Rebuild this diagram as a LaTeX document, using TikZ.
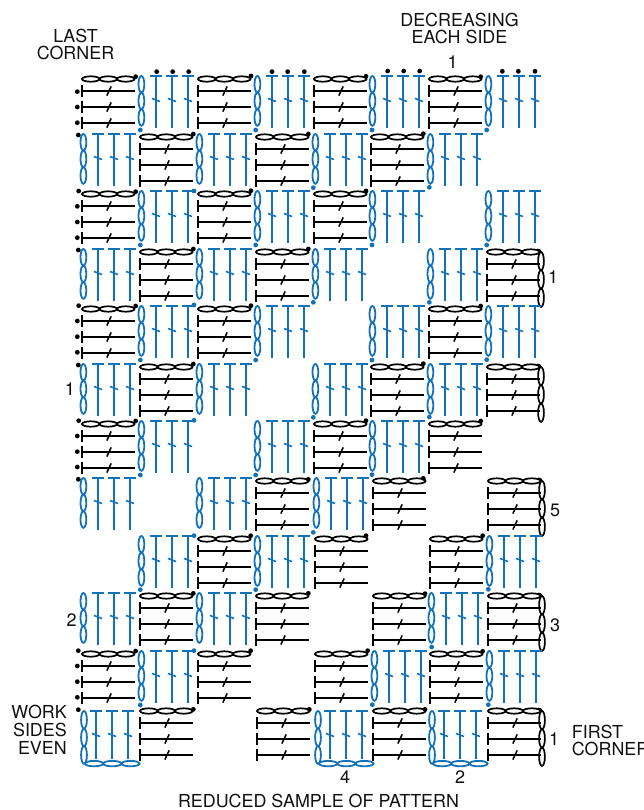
\documentclass[tikz,border=0pt]{standalone}
\usepackage{fontspec}
\setmainfont{TeX Gyre Heros}
\definecolor{stitchblue}{HTML}{1272B9}
\definecolor{inkblack}{HTML}{111111}
\tikzset{
  blackline/.style={draw=black,line width=2pt},
  blackoval/.style={draw=black,line width=1.7pt},
  blueline/.style={draw=stitchblue,line width=2pt},
  blueoval/.style={draw=stitchblue,line width=1.8pt},
  lab/.style={font=\fontsize{17.9}{17.6}\selectfont,text=inkblack,inner sep=0pt,align=center},
  numlab/.style={font=\fontsize{18}{18}\selectfont,text=inkblack,inner sep=0pt},
}
% horizontal chain of three ovals starting at local x=0, width #1 each
\newcommand\HChain[2]{%
  \foreach \k in {0,1,2}{\draw[#2] ({#1*(\k+.5)},0) ellipse [x radius={#1/2*1pt},y radius=2.7pt];}}
% vertical chain of three ovals at local (#1,#2), each of height #3
\newcommand\VChain[4]{%
  \foreach \k in {0,1,2}{\draw[#4] (#1,{#2+#3*(\k+.5)}) ellipse [x radius=2.9pt,y radius={#3/2*1pt}];}}
\newcommand\BlackCell[2]{%
  \begin{scope}[shift={(#1,#2)}]
    \HChain{17.5}{blackoval}
    \foreach \d in {12,28,44}{
      \draw[blackline] (0,\d-6) -- (0,\d+6);
      \draw[blackline] (0,\d) -- (52.5,\d);
      \draw[blackline,line width=1.5pt] (24.8,\d+4.6) -- (29.2,\d-4.6);
    }
  \end{scope}}
\newcommand\RightChain[2]{%
  \begin{scope}[shift={(#1,#2)}]
    \VChain{54}{0}{18.3}{blackoval}
    \draw[blackoval] (50,-2.5) .. controls (52,-2.5) and (53.5,-2) .. (54,0);
  \end{scope}}
\newcommand\BlueStems[3]{% x of first stem, top y, bottom y (local)
  \foreach \d in {0,16,32}{
    \draw[blueline] (#1+\d-6,#2) -- (#1+\d+6,#2);
    \draw[blueline] (#1+\d,#2) -- (#1+\d,#3);
    \draw[blueline,line width=1.6pt] (#1+\d-4,#2+22.5) -- (#1+\d+4,#2+25.5);
  }}
\newcommand\BlueCell[2]{%
  \begin{scope}[shift={(#1,#2)}]
    \VChain{1.4}{-3}{16.6}{blueoval}
    \BlueStems{16}{-3}{49}
  \end{scope}}
\newcommand\BlueEdgeCell[2]{% bottom row, #1 = x of the left chain
  \begin{scope}[shift={(#1,#2)}]
    \VChain{0}{0}{17.6}{blueoval}
    \BlueStems{12}{0}{48}
    \begin{scope}[shift={(1,52.6)}]\HChain{18.2}{blueoval}\end{scope}
  \end{scope}}
\newcommand\SetCell[2]{%
  \pgfmathsetmacro\cx{round(82.3+57.8*#1+(and(#2>=7,#1>=4)?1.2:0))}%
  \pgfmathsetmacro\cy{round(79.3+57.45*#2)}}
\begin{document}
\begin{tikzpicture}[x=1pt,y=-1pt]
\useasboundingbox (0,0) rectangle (644,810);
% black cells  col/row
\foreach \c/\r in {0/0,2/0,4/0,6/0,1/1,3/1,5/1,0/2,2/2,4/2,1/3,3/3,7/3,
  0/4,2/4,6/4,1/5,5/5,7/5,0/6,4/6,6/6,3/7,5/7,7/7,2/8,4/8,6/8,
  1/9,3/9,5/9,7/9,0/10,2/10,4/10,6/10,1/11,5/11,7/11}{
  \SetCell{\c}{\r}\BlackCell{\cx}{\cy}}
\BlackCell{257}{711}
% right hand chains
\foreach \c/\r in {7/3,7/5,7/7,7/9,7/11}{
  \SetCell{\c}{\r}\RightChain{\cx}{\cy}}
% blue cells
\foreach \c/\r in {1/0,3/0,5/0,7/0,0/1,2/1,4/1,6/1,1/2,3/2,5/2,7/2,
  0/3,2/3,4/3,6/3,1/4,3/4,5/4,7/4,0/5,2/5,4/5,6/5,1/6,3/6,5/6,
  0/7,2/7,4/7,1/8,3/8,7/8,0/9,2/9,6/9,1/10,5/10,7/10}{
  \SetCell{\c}{\r}\BlueCell{\cx}{\cy}}
\BlueEdgeCell{84}{711}
\BlueEdgeCell{318}{711}
\BlueEdgeCell{432}{711}
% dots: coordinates read from enlarged crops
\newcommand\DotSet[4]{%
  \begin{scope}[shift={(#1,#2)},x=.33333pt,y=-.33333pt]
    \foreach \X/\Y in {#4}{\fill[#3] (\X,\Y) circle [radius=2.4pt];}
  \end{scope}}
\DotSet{60}{60}{black}{227/50,573/48,52/95,52/141,52/188,290/35,338/35,386/35,636/35,683/35,733/35,
  55/225,400/222,745/222,56/393,227/395,573/392,52/439,52/486,52/533,55/570,400/567,745/567}
\DotSet{60}{60}{stitchblue}{241/210,587/210,402/393,760/383,241/555,587/555}
\DotSet{60}{270}{black}{56/107,227/108,573/107,52/153,52/200,52/247,55/285,400/282,56/452,227/453,
  52/498,52/545,52/591,55/628,745/628}
\DotSet{60}{270}{stitchblue}{402/105,760/97,241/270,587/270,402/451,760/442,241/615,587/615}
\DotSet{340}{0}{black}{78/229,422/230,143/213,191/213,239/213,487/214,535/214,585/214,250/401,78/573}
\DotSet{340}{0}{stitchblue}{96/390,440/390,268/562,96/735,440/735}
\DotSet{340}{270}{black}{422/108,250/281,78/452,422/453,250/625}
\DotSet{340}{270}{stitchblue}{268/97,96/270,440/269,268/441,96/614}
\DotSet{60}{480}{black}{572/167,400/340,745/340,55/512,227/513,572/512,52/558,52/605,52/652,55/689,400/688,748/688}
\DotSet{60}{480}{stitchblue}{760/157,402/167,241/329,587/329,402/512,241/675}
\DotSet{340}{520}{black}{78/47,428/47,255/221,83/392,428/394,255/568}
\DotSet{340}{520}{stitchblue}{445/208,275/381,97/554,445/554}
% labels
\node[lab,anchor=base] (decr1) at (459.5,26.5) {DECREASING};
\node[lab,anchor=base] (decr2) at (459.5,44) {EACH SIDE};
\node[lab,anchor=base] (last1) at (75.5,42.5) {LAST};
\node[lab,anchor=base] (last2) at (75.5,59.5) {CORNER};
\node[lab,anchor=base east] (work1) at (67,718.3) {WORK};
\node[lab,anchor=base east] (work2) at (67,736.5) {SIDES};
\node[lab,anchor=base east] (work3) at (67,754.3) {EVEN};
\node[lab,anchor=base west] (first1) at (571.7,738.3) {FIRST};
\node[lab,anchor=base west] (first2) at (571.7,755) {CORNER};
\node[lab,anchor=base] (caption) at (318.5,807.3) {REDUCED SAMPLE OF PATTERN};
\node[numlab] (n1) at (452.7,61.7) {1};
\node[numlab] (n2) at (553,277) {1};
\node[numlab] (n3) at (70,389) {1};
\node[numlab] (n4) at (555,510.7) {5};
\node[numlab] (n5) at (555,625) {3};
\node[numlab] (n6) at (554,739) {1};
\node[numlab] (n7) at (71.7,620) {2};
\node[numlab] (n8) at (345,777) {4};
\node[numlab] (n9) at (460,776.7) {2};
\end{tikzpicture}
\end{document}
